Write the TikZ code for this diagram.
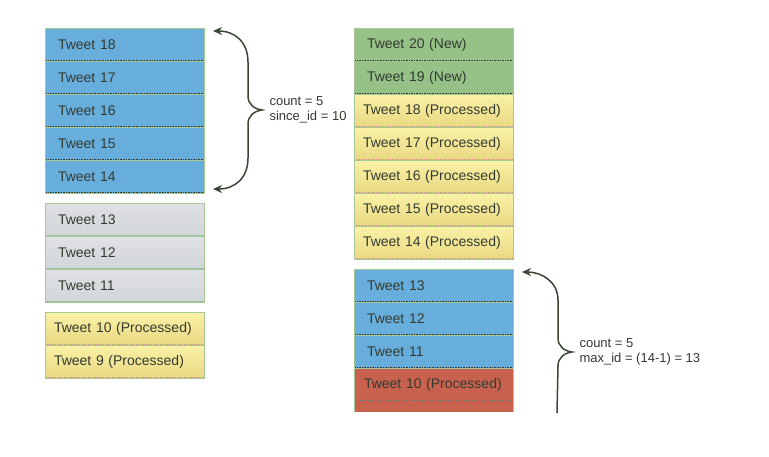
\documentclass[tikz,border=0pt]{standalone}
\usepackage{fontspec}
\setmainfont{Liberation Sans}
\usepackage{xcolor}
\usepackage{tikz}
\usetikzlibrary{positioning, arrows.meta}
\definecolor{twblue}{HTML}{68AEDD}
\definecolor{twgreen}{HTML}{96C187}
\definecolor{graylo}{HTML}{D2D5D9}
\definecolor{grayhi}{HTML}{DFE1E4}
\definecolor{yellowhi}{HTML}{FBF2A6}
\definecolor{yellowlo}{HTML}{E8D882}
\definecolor{twred}{HTML}{C8624F}
\definecolor{edge}{HTML}{A7C796}
\definecolor{ink}{HTML}{343B31}
\definecolor{curlc}{HTML}{3A4833}

\begin{document}
\begin{tikzpicture}[x=1pt, y=-1pt,
  every node/.style={font=\fontsize{14}{16}\selectfont, text=ink},
  row/.style={rectangle, draw=edge, line width=0.6pt, outer sep=0pt, minimum height=33pt,
    text width=133pt, inner xsep=13pt, align=left},
  seam/.style={path picture={\draw[#1] (path picture bounding box.south west) -- (path picture bounding box.south east);}},
  fresh/.style={row, fill=twblue, seam={ink, densely dotted, line width=1.6pt}},
  newrow/.style={row, fill=twgreen, seam={ink, densely dotted, line width=1.6pt}},
  waiting/.style={row, top color=grayhi, bottom color=graylo, seam={edge!80!twblue, line width=1.4pt}},
  done/.style={row, text width=141pt, inner xsep=9pt, top color=yellowhi, bottom color=yellowlo,
    seam={twred!70, densely dotted, line width=1.4pt}},
  dropped/.style={row, text width=139pt, inner xsep=10pt, fill=twred, seam={ink!70, densely dotted, line width=1.6pt}},
  curl/.style={draw=curlc, line width=1.5pt},
  note/.style={font=\fontsize{13}{15.5}\selectfont, align=left, anchor=west}]
  \useasboundingbox[fill=white] (0,0) rectangle (769,456);

  % left column
  \node[fresh, anchor=north west] (l18) at (45,28) {Tweet 18};
  \node[fresh, below=0pt of l18] (l17) {Tweet 17};
  \node[fresh, below=0pt of l17] (l16) {Tweet 16};
  \node[fresh, below=0pt of l16] (l15) {Tweet 15};
  \node[fresh, below=0pt of l15] (l14) {Tweet 14};
  \node[waiting, anchor=north west] (l13) at (45,203) {Tweet 13};
  \node[waiting, below=0pt of l13] (l12) {Tweet 12};
  \node[waiting, below=0pt of l12] (l11) {Tweet 11};
  \node[done, anchor=north west] (l10) at (45,312) {Tweet 10 (Processed)};
  \node[done, below=0pt of l10] (l9) {Tweet 9 (Processed)};

  % right column
  \node[newrow, anchor=north west] (r20) at (354,28) {Tweet 20 (New)};
  \node[newrow, below=0pt of r20] (r19) {Tweet 19 (New)};
  \node[done, below=0pt of r19] (r18) {Tweet 18 (Processed)};
  \node[done, below=0pt of r18] (r17) {Tweet 17 (Processed)};
  \node[done, below=0pt of r17] (r16) {Tweet 16 (Processed)};
  \node[done, below=0pt of r16] (r15) {Tweet 15 (Processed)};
  \node[done, below=0pt of r15] (r14) {Tweet 14 (Processed)};
  \node[fresh, anchor=north west] (r13) at (354,269) {Tweet 13};
  \node[fresh, below=0pt of r13] (r12) {Tweet 12};
  \node[fresh, below=0pt of r12] (r11) {Tweet 11};
  \node[dropped, below=0pt of r11] (r10) {Tweet 10 (Processed)};
  \node[dropped, draw=none, minimum height=11pt, inner ysep=0pt, seam={draw=none}, below=0pt of r10] (rtail) {};
  \draw[edge, line width=0.6pt] (rtail.north west) -- (rtail.south west) (rtail.north east) -- (rtail.south east);

  % first request
  \coordinate (a1) at ([xshift=9pt, yshift=-3pt]l18.north east);
  \coordinate (a2) at ([xshift=9pt, yshift=4pt]l14.south east);
  \draw[curl, {Stealth[length=9pt, width=8pt]}-{Stealth[length=9pt, width=8pt]}]
    (a1) .. controls (235,31) and (248,42) .. (248,62) -- (248,96)
    .. controls (248,104) and (254,109) .. (262,110)
    .. controls (254,111) and (248,116) .. (248,124) -- (248,158)
    .. controls (248,178) and (235,189) .. (a2);
  \node[note] (q1) at (266,110) {count = 5\\since\_id = 10};

  % second request
  \coordinate (c1) at ([xshift=9pt, yshift=-3pt]r13.north east);
  \coordinate (c2) at (557,413);
  \draw[curl, {Stealth[length=9pt, width=8pt]}-]
    (c1) .. controls (542,272) and (558,282) .. (558,300) -- (558,338)
    .. controls (558,346) and (564,351) .. (572,352)
    .. controls (564,353) and (558,358) .. (558,366) -- (c2);
  \node[note] (q2) at (576,352) {count = 5\\max\_id = (14-1) = 13};
\end{tikzpicture}
\end{document}
